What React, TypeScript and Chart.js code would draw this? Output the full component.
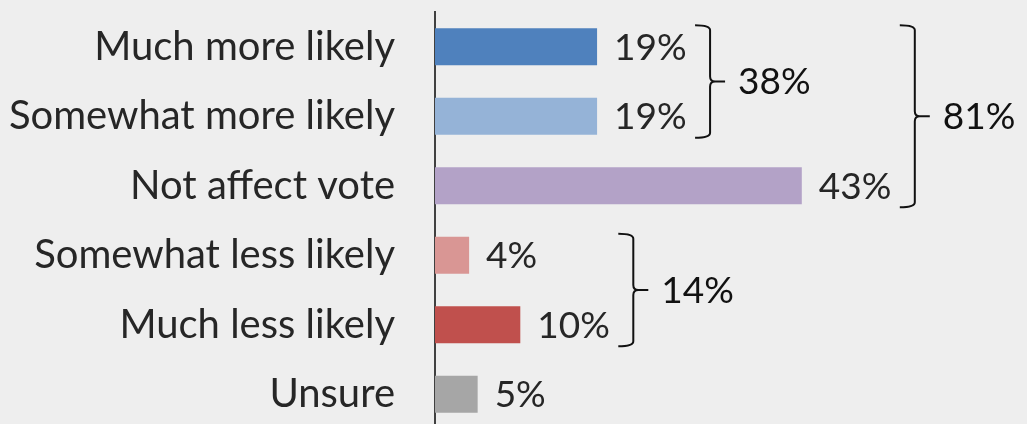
import React, { useEffect, useRef } from "react";
import { Chart, registerables } from "chart.js";

Chart.register(...registerables);

const categories = [
  "Much more likely",
  "Somewhat more likely",
  "Not affect vote",
  "Somewhat less likely",
  "Much less likely",
  "Unsure",
];
const values = [19, 19, 43, 4, 10, 5];
const barColors = ["#4F81BD", "#95B3D7", "#B3A2C7", "#D99694", "#C0504D", "#A6A6A6"];

const groupLabels = ["38%", "81%", "14%"];
const groupStarts = [0, 0, 3];
const groupEnds = [1, 2, 4];

const FONT = "Lato";
const TEXT = "#262626";

const labelPlugin = {
  id: "valueLabels",
  afterDatasetsDraw(chart: any) {
    const ctx = chart.ctx;
    const meta = chart.getDatasetMeta(0);
    ctx.save();
    ctx.font = `37px ${FONT}`;
    ctx.fillStyle = TEXT;
    ctx.textBaseline = "middle";
    ctx.textAlign = "left";
    meta.data.forEach((bar: any, i: number) => {
      ctx.fillText(values[i] + "%", bar.x + 17, bar.y + 1);
    });
    ctx.restore();
  },
};

const bracketPlugin = {
  id: "brackets",
  afterDatasetsDraw(chart: any) {
    const ctx = chart.ctx;
    const meta = chart.getDatasetMeta(0);
    const xs = chart.scales.x;
    ctx.save();
    ctx.strokeStyle = "#111111";
    ctx.lineWidth = 2;
    ctx.font = `37px ${FONT}`;
    ctx.fillStyle = "#111111";
    ctx.textBaseline = "middle";
    ctx.textAlign = "left";
    groupLabels.forEach((lab, g) => {
      const s = groupStarts[g];
      const e = groupEnds[g];
      let maxV = 0;
      for (let i = s; i <= e; i++) maxV = Math.max(maxV, values[i]);
      const left = xs.getPixelForValue(maxV) + 98;
      const v = left + 15;
      const tip = v + 15;
      const b0 = meta.data[s];
      const b1 = meta.data[e];
      const top = b0.y - b0.height / 2 - 3;
      const bottom = b1.y + b1.height / 2 + 3;
      const mid = (top + bottom) / 2;
      const r = 5;
      ctx.beginPath();
      ctx.moveTo(left, top);
      ctx.quadraticCurveTo(v, top, v, top + r);
      ctx.lineTo(v, mid - r);
      ctx.quadraticCurveTo(v, mid, v + r, mid);
      ctx.lineTo(tip, mid);
      ctx.moveTo(v + r, mid);
      ctx.quadraticCurveTo(v, mid, v, mid + r);
      ctx.lineTo(v, bottom - r);
      ctx.quadraticCurveTo(v, bottom, left, bottom);
      ctx.stroke();
      ctx.fillText(lab, tip + 13, mid + 1);
    });
    ctx.restore();
  },
};

export default function App() {
  const ref = useRef<HTMLCanvasElement>(null);
  useEffect(() => {
    document.body.style.margin = "0";
    const chart = new Chart(ref.current as HTMLCanvasElement, {
      type: "bar",
      data: {
        labels: categories,
        datasets: [
          {
            data: values,
            backgroundColor: barColors,
            barPercentage: 0.532,
            categoryPercentage: 1,
          },
        ],
      },
      options: {
        indexAxis: "y",
        animation: false,
        responsive: false,
        layout: { padding: { top: 12, bottom: 0, left: 0, right: 0 } },
        plugins: { legend: { display: false }, tooltip: { enabled: false } },
        scales: {
          x: {
            display: false,
            min: 0,
            max: 69.4,
          },
          y: {
            afterFit(scale: any) {
              scale.width = 435;
              scale.paddingTop = 0;
              scale.paddingBottom = 0;
            },
            grid: { display: false, drawTicks: false },
            border: { display: true, color: "#404040", width: 2 },
            ticks: {
              padding: 40,
              color: TEXT,
              font: { family: FONT, size: 40 },
            },
          },
        },
      },
      plugins: [labelPlugin, bracketPlugin],
    });
    return () => chart.destroy();
  }, []);
  return (
    <div
      style={{
        position: "fixed",
        top: 0,
        left: 0,
        width: 1027,
        height: 424,
        overflow: "hidden",
        background: "#EEEEEE",
      }}
    >
      <canvas ref={ref} width={1027} height={429} style={{ display: "block" }} />
    </div>
  );
}
